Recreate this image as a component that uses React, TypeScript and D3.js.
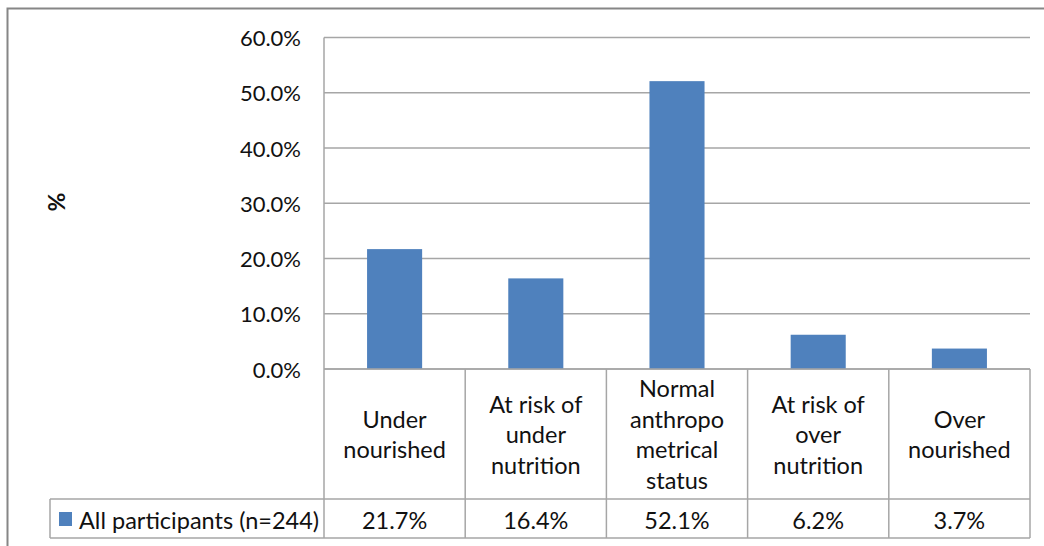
import React from "react";
import * as d3 from "d3";

const categories: string[][] = [
  ["Under", "nourished"],
  ["At risk of", "under", "nutrition"],
  ["Normal", "anthropo", "metrical", "status"],
  ["At risk of", "over", "nutrition"],
  ["Over", "nourished"],
];
const values: number[] = [21.7, 16.4, 52.1, 6.2, 3.7];
const valueLabels: string[] = ["21.7%", "16.4%", "52.1%", "6.2%", "3.7%"];
const yTicks: number[] = [0, 10, 20, 30, 40, 50, 60];
const seriesName = "All participants (n=244)";
const axisTitle = "%";

const W = 1044;
const H = 546;
const FONT = "Lato, 'Open Sans', sans-serif";
const FS = 22;
const FS_TABLE = 23.5;

export default function App() {
  const left = 324;
  const right = 1030;
  const top = 37.5;
  const bottom = 369;
  const tableMid = 499;
  const tableBottom = 538;
  const legendLeft = 50;

  const idx = categories.map((_, i) => String(i));
  const xCat = d3.scaleBand<string>().domain(idx).range([left, right]).padding(0);
  const xBar = d3
    .scaleBand<string>()
    .domain(idx)
    .range([left, right])
    .paddingInner(0.61)
    .paddingOuter(0.305);
  const y = d3.scaleLinear().domain([0, 60]).range([bottom, top]);

  const gridColor = "#a6a6a6";
  const lineH = 30.5;
  const labelMid = (bottom + tableMid) / 2;
  const textColor = "#111";

  return (
    <svg
      width={W}
      height={H}
      style={{ position: "absolute", left: 0, top: 0, background: "#fff" }}
      fontFamily={FONT}
    >
      <rect x={0} y={0} width={W} height={H} fill="#fff" />
      {/* outer frame */}
      <rect x={7.5} y={8.5} width={W + 10} height={H + 10} fill="none" stroke="#868686" strokeWidth={2} />

      {/* gridlines */}
      {yTicks.map((t) => (
        <line key={"g" + t} x1={left} x2={right} y1={y(t)} y2={y(t)} stroke={gridColor} strokeWidth={1.5} />
      ))}
      {/* tick labels */}
      {yTicks.map((t) => (
        <text
          key={"t" + t}
          x={301}
          y={y(t)}
          textAnchor="end"
          dominantBaseline="central"
          fontSize={FS}
          fill={textColor}
        >
          {d3.format(".1f")(t) + "%"}
        </text>
      ))}
      {/* axis title */}
      <text
        transform={`translate(56,${202}) rotate(-90)`}
        textAnchor="middle"
        dominantBaseline="central"
        fontSize={FS + 1}
        fontWeight="bold"
        fill={textColor}
      >
        {axisTitle}
      </text>

      {/* bars */}
      {values.map((v, i) => (
        <rect
          key={"b" + i}
          x={xBar(String(i))}
          y={y(v)}
          width={xBar.bandwidth()}
          height={y(0) - y(v)}
          fill="#4f81bd"
        />
      ))}

      {/* table lines */}
      <line x1={left} x2={left} y1={top} y2={tableBottom} stroke={gridColor} strokeWidth={1.5} />
      {idx.map((k) => (
        <line
          key={"v" + k}
          x1={(xCat(k) as number) + xCat.bandwidth()}
          x2={(xCat(k) as number) + xCat.bandwidth()}
          y1={bottom}
          y2={tableBottom}
          stroke={gridColor}
          strokeWidth={1.5}
        />
      ))}
      <line x1={left} x2={right} y1={bottom} y2={bottom} stroke={gridColor} strokeWidth={1.5} />
      <line x1={legendLeft} x2={right} y1={tableMid} y2={tableMid} stroke={gridColor} strokeWidth={1.5} />
      <line x1={legendLeft} x2={right} y1={tableBottom} y2={tableBottom} stroke={gridColor} strokeWidth={1.5} />
      <line x1={legendLeft} x2={legendLeft} y1={tableMid} y2={tableBottom} stroke={gridColor} strokeWidth={1.5} />

      {/* category labels */}
      {categories.map((lines, i) => {
        const cx = (xCat(String(i)) as number) + xCat.bandwidth() / 2;
        const start = labelMid - ((lines.length - 1) * lineH) / 2;
        return lines.map((ln, j) => (
          <text
            key={"c" + i + "_" + j}
            x={cx}
            y={start + j * lineH}
            textAnchor="middle"
            dominantBaseline="central"
            fontSize={FS_TABLE}
            fill={textColor}
          >
            {ln}
          </text>
        ));
      })}

      {/* value row */}
      {valueLabels.map((lab, i) => (
        <text
          key={"val" + i}
          x={(xCat(String(i)) as number) + xCat.bandwidth() / 2}
          y={(tableMid + tableBottom) / 2 + 1}
          textAnchor="middle"
          dominantBaseline="central"
          fontSize={FS_TABLE}
          fill={textColor}
        >
          {lab}
        </text>
      ))}

      {/* legend key */}
      <rect x={59} y={512} width={13} height={14} fill="#4f81bd" />
      <text x={79} y={(tableMid + tableBottom) / 2 + 1} dominantBaseline="central" fontSize={FS_TABLE} fill={textColor}>
        {seriesName}
      </text>
    </svg>
  );
}
